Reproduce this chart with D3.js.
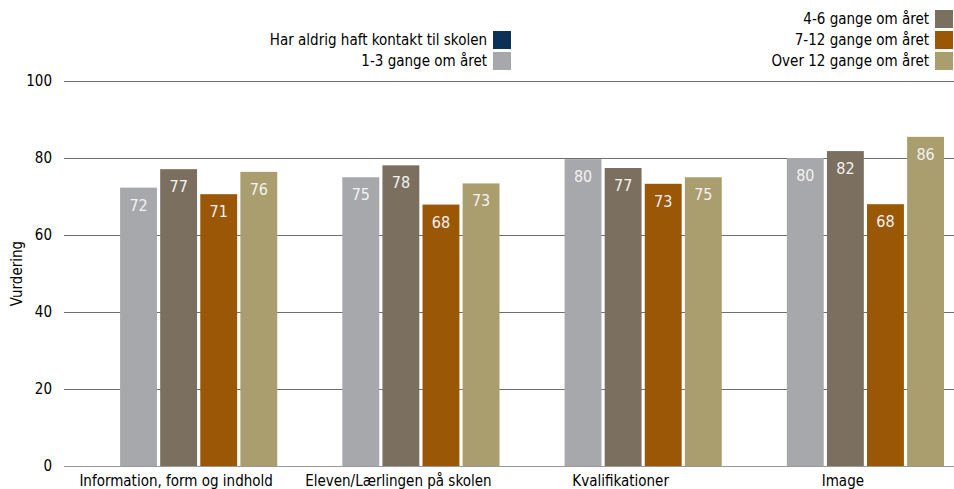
<!DOCTYPE html>
<html>
<head>
<meta charset="utf-8">
<script src="https://cdn.jsdelivr.net/npm/d3@7"></script>
<style>
  body { margin: 0; background: #fff; }
  svg { display: block; font-family: "DejaVu Sans Condensed", "DejaVu Sans", sans-serif; }
</style>
</head>
<body>
<svg></svg>
<script>
// categories on the x axis
const categories = ["Information, form og indhold", "Eleven/Lærlingen på skolen", "Kvalifikationer", "Image"];
// series names (legend order)
const seriesNames = ["Har aldrig haft kontakt til skolen", "1-3 gange om året", "4-6 gange om året", "7-12 gange om året", "Over 12 gange om året"];
const seriesColors = ["#0d3057", "#a7a8ac", "#7b705f", "#9a5706", "#aa9e6e"];
// values per series, one per category (null = no answer)
const neverValues = [null, null, null, null];
const values13 = [72.3, 75.0, 79.7, 80.0];
const values46 = [77.1, 78.1, 77.4, 81.8];
const values712 = [70.6, 67.9, 73.3, 68.0];
const valuesOver12 = [76.4, 73.4, 75.0, 85.5];
const yTicks = [0, 20, 40, 60, 80, 100];

const seriesValues = [neverValues, values13, values46, values712, valuesOver12];

const width = 954, height = 489;
const margin = { top: 81, right: 0, bottom: 23, left: 65 };

const svg = d3.select("svg").attr("width", width).attr("height", height);

const x0 = d3.scaleBand().domain(categories).range([margin.left, width - margin.right]);
const x1 = d3.scaleBand().domain(d3.range(seriesNames.length))
    .range([15, x0.bandwidth() - 10]).paddingInner(0.08).paddingOuter(0);
const y = d3.scaleLinear().domain([0, 100]).range([height - margin.bottom, margin.top]);

// gridlines
svg.append("g")
    .selectAll("line")
    .data(yTicks)
    .join("line")
    .attr("x1", 64).attr("x2", width)
    .attr("y1", d => Math.round(y(d)) + 0.5).attr("y2", d => Math.round(y(d)) + 0.5)
    .attr("stroke", d => d === 0 ? "#999" : "#6e6e6e")
    .attr("stroke-width", 1);

// y tick labels
svg.append("g")
    .selectAll("text")
    .data(yTicks)
    .join("text")
    .attr("x", 52).attr("y", d => y(d))
    .attr("dy", "0.35em")
    .attr("text-anchor", "end")
    .attr("font-size", 15)
    .attr("fill", "#000")
    .text(d => d);

// y axis title
svg.append("text")
    .attr("transform", `translate(22,${(y(0) + y(100)) / 2}) rotate(-90)`)
    .attr("text-anchor", "middle")
    .attr("font-size", 15)
    .text("Vurdering");

// bars
const groups = svg.append("g")
    .selectAll("g")
    .data(categories)
    .join("g")
    .attr("transform", d => `translate(${x0(d)},0)`);

const cells = groups.selectAll("g")
    .data((c, ci) => seriesValues.map((vals, si) => ({ si, v: vals[ci] })).filter(d => d.v != null))
    .join("g");

cells.append("rect")
    .attr("x", d => x1(d.si))
    .attr("width", x1.bandwidth())
    .attr("y", d => y(d.v))
    .attr("height", d => y(0) - y(d.v))
    .attr("fill", d => seriesColors[d.si]);

cells.append("text")
    .attr("x", d => x1(d.si) + x1.bandwidth() / 2)
    .attr("y", d => y(d.v) + 23)
    .attr("text-anchor", "middle")
    .attr("font-size", 16)
    .attr("fill", "#f2f2f2")
    .text(d => Math.round(d.v));

// x category labels
svg.append("g")
    .selectAll("text")
    .data(categories)
    .join("text")
    .attr("x", d => x0(d) + x0.bandwidth() / 2)
    .attr("y", 486)
    .attr("text-anchor", "middle")
    .attr("font-size", 15)
    .text(d => d);

// legend: two columns, right aligned, bottom rows aligned
const legendCols = [[0, 1], [2, 3, 4]];
const colRight = [511, 953];
const rowH = 21;
legendCols.forEach((items, ci) => {
    const n = items.length;
    items.forEach((si, ri) => {
        const cy = 61 - (n - 1 - ri) * rowH;
        const g = svg.append("g");
        g.append("rect")
            .attr("x", colRight[ci] - 18).attr("y", cy - 9)
            .attr("width", 18).attr("height", 18)
            .attr("fill", seriesColors[si]);
        g.append("text")
            .attr("x", colRight[ci] - 24).attr("y", cy)
            .attr("dy", "0.35em")
            .attr("text-anchor", "end")
            .attr("font-size", 15)
            .text(seriesNames[si]);
    });
});
</script>
</body>
</html>
